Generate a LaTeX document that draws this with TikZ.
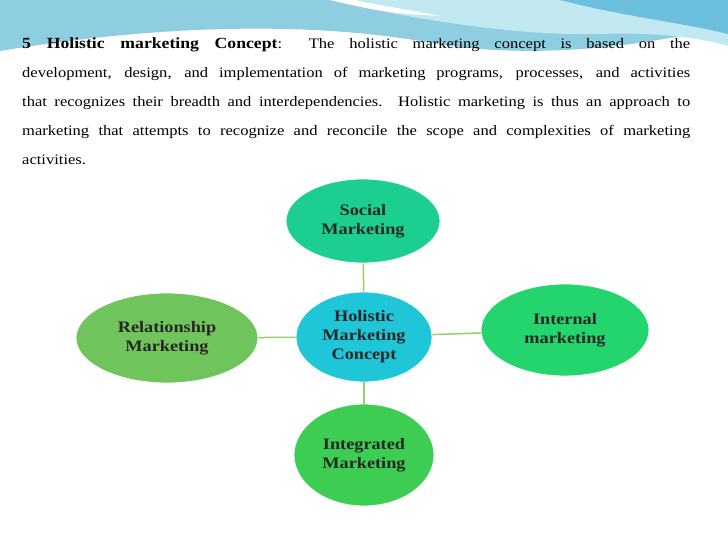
\documentclass[tikz,border=0pt]{standalone}
\usepackage{fontspec}
\setmainfont{Liberation Serif}
\newfontfamily\bodyfont[FakeStretch=1.14]{Liberation Serif}
\usetikzlibrary{shapes.geometric}
\definecolor{wave1}{HTML}{8FCDE0}
\definecolor{wave2}{HTML}{C2E8F1}
\definecolor{wave3}{HTML}{6CC0DD}
\definecolor{link}{HTML}{9CCB6A}
\tikzset{
  ell/.style={ellipse, draw=white, line width=0.8pt, font=\bodyfont\bfseries\fontsize{16}{19}\selectfont, text=black!85, align=center, inner sep=0pt},
  conn/.style={draw=link, line width=1.5pt}
}
\begin{document}
\begin{tikzpicture}[x=1pt,y=1pt]
\useasboundingbox (0,0) rectangle (728,546);
\fill[white] (0,0) rectangle (728,546);
% top waves
\fill[wave1] (0,546) -- (728,546) -- (728,520) .. controls (600,490) and (500,490) .. (420,505) .. controls (300,525) and (150,520) .. (0,495) -- cycle;
\fill[wave2] (330,546) .. controls (420,525) and (520,510) .. (600,512) .. controls (660,514) and (700,508) .. (728,500) -- (728,546) -- cycle;
\fill[wave3] (560,546) .. controls (620,530) and (690,522) .. (728,512) -- (728,546) -- cycle;
\fill[white] (330,546) .. controls (380,534) and (400,532) .. (440,530) .. controls (400,538) and (370,542) .. (355,546) -- cycle;
% text
\node[anchor=north west, text width=668pt, align=justify, inner sep=0pt, font=\bodyfont\fontsize{14.5}{29}\selectfont] (txt) at (22,508)
{\hyphenpenalty=10000 \textbf{\fontsize{15.5}{29}\selectfont 5 Holistic marketing Concept}: The holistic marketing concept is based on the\linebreak
development, design, and implementation of marketing programs, processes, and activities\linebreak
that recognizes their breadth and interdependencies. Holistic marketing is thus an approach to\linebreak
marketing that attempts to recognize and reconcile the scope and complexities of marketing\linebreak
activities.};
% nodes
\node[ell, fill={rgb,255:red,28;green,207;blue,145}, minimum width=154pt, minimum height=84pt] (soc) at (363,325) {Social\\Marketing};
\node[ell, fill={rgb,255:red,30;green,198;blue,216}, minimum width=136pt, minimum height=90pt] (hol) at (364,209) {Holistic\\Marketing\\Concept};
\node[ell, fill={rgb,255:red,36;green,212;blue,108}, minimum width=168pt, minimum height=92pt] (int) at (565,216) {Internal\\marketing};
\node[ell, fill={rgb,255:red,112;green,196;blue,92}, minimum width=182pt, minimum height=90pt] (rel) at (167,208) {Relationship\\Marketing};
\node[ell, fill={rgb,255:red,60;green,205;blue,82}, minimum width=140pt, minimum height=102pt] (ing) at (364,91) {Integrated\\Marketing};
% connectors
\draw[conn] (soc) -- (hol);
\draw[conn] (hol) -- (int);
\draw[conn] (hol) -- (rel);
\draw[conn] (hol) -- (ing);
\end{tikzpicture}
\end{document}
